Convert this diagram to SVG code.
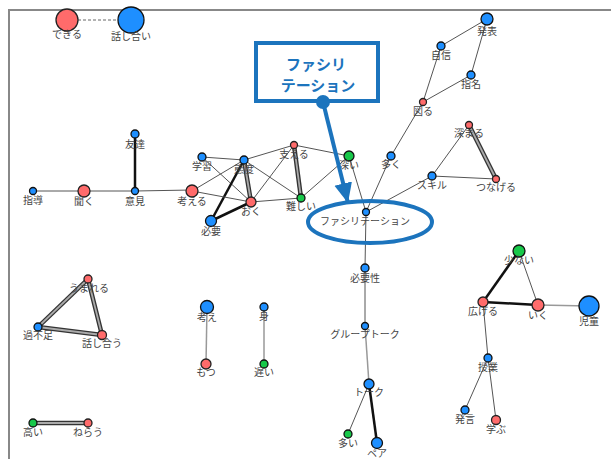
<svg xmlns="http://www.w3.org/2000/svg" width="611" height="459" viewBox="0 0 611 459">
<style>
text{font-family:"Noto Sans CJK JP","Noto Sans",sans-serif;font-size:10px;fill:#444;text-anchor:middle}
.e{stroke:#555;stroke-width:1;fill:none}
.g{stroke:#999;stroke-width:1.5;fill:none}
.b{stroke:#111;stroke-width:2.5;fill:none}
.do{stroke:#333;stroke-width:4.5;fill:none}
.di{stroke:#aaa;stroke-width:1.8;fill:none}
.r{fill:#ff6b6b;stroke:#222;stroke-width:1.3}
.u{fill:#1e8fff;stroke:#111;stroke-width:1.3}
.n{fill:#18c84a;stroke:#111;stroke-width:1.3}
.cl{fill:none;stroke:#1c74bd;stroke-width:4}
.ct{font-size:15px;font-weight:bold;fill:#1c74bd}
</style>
<defs>
<marker id="ah" markerUnits="userSpaceOnUse" markerWidth="22" markerHeight="20" refX="20" refY="9" orient="auto">
<path d="M0,0 L20,9 L0,18 Z" fill="#1c74bd"/>
</marker>
</defs>
<rect width="611" height="459" fill="#fff"/>
<path d="M9,459 V10 H611" fill="none" stroke="#888" stroke-width="2"/>
<g id="edges">
<line x1="78" y1="20" x2="117" y2="20" stroke="#666" stroke-width="1" stroke-dasharray="3,2"/>
<line class="e" x1="487" y1="19" x2="441" y2="46"/>
<line class="e" x1="487" y1="19" x2="471" y2="75"/>
<line class="e" x1="441" y1="46" x2="423" y2="102"/>
<line class="e" x1="471" y1="75" x2="423" y2="102"/>
<line class="e" x1="423" y1="102" x2="391" y2="156"/>
<line class="e" x1="391" y1="156" x2="366" y2="212"/>
<line class="e" x1="469" y1="125" x2="432" y2="176"/>
<line class="do" x1="469" y1="125" x2="496" y2="179"/><line class="di" x1="469" y1="125" x2="496" y2="179"/>
<line class="e" x1="432" y1="176" x2="496" y2="179"/>
<line class="e" x1="432" y1="176" x2="366" y2="212"/>
<line class="e" x1="349" y1="156" x2="366" y2="212"/>
<line class="b" x1="135" y1="134" x2="135" y2="191"/>
<line class="e" x1="33" y1="191" x2="84" y2="191"/>
<line class="e" x1="84" y1="191" x2="135" y2="191"/>
<line class="e" x1="135" y1="191" x2="192" y2="190" stroke-width="1.5"/>
<line class="e" x1="202" y1="157" x2="244" y2="160"/>
<line class="e" x1="202" y1="157" x2="251" y2="202"/>
<line class="e" x1="244" y1="160" x2="294" y2="145"/>
<line class="e" x1="244" y1="160" x2="192" y2="191"/>
<line class="e" x1="244" y1="160" x2="301" y2="198"/>
<line class="do" x1="244" y1="160" x2="251" y2="202"/><line class="di" x1="244" y1="160" x2="251" y2="202"/>
<line class="b" x1="244" y1="160" x2="211" y2="221"/>
<line class="e" x1="294" y1="145" x2="349" y2="156"/>
<line class="e" x1="294" y1="145" x2="251" y2="202"/>
<line class="do" x1="294" y1="145" x2="301" y2="198"/><line class="di" x1="294" y1="145" x2="301" y2="198"/>
<line class="e" x1="192" y1="191" x2="251" y2="202"/>
<line class="e" x1="251" y1="202" x2="301" y2="198"/>
<line class="b" x1="251" y1="202" x2="211" y2="221"/>
<line class="e" x1="301" y1="198" x2="349" y2="156"/>
<line class="e" x1="366" y1="212" x2="365" y2="268"/>
<line class="e" x1="365" y1="268" x2="365" y2="326"/>
<line class="g" x1="365" y1="326" x2="369" y2="384"/>
<line class="e" x1="369" y1="384" x2="348" y2="434"/>
<line class="b" x1="369" y1="384" x2="377" y2="443"/>
<line class="do" x1="88" y1="279" x2="38" y2="327"/><line class="di" x1="88" y1="279" x2="38" y2="327"/>
<line class="do" x1="88" y1="279" x2="102" y2="335"/><line class="di" x1="88" y1="279" x2="102" y2="335"/>
<line class="do" x1="38" y1="327" x2="102" y2="335"/><line class="di" x1="38" y1="327" x2="102" y2="335"/>
<line class="g" x1="207" y1="307" x2="206" y2="364"/>
<line class="g" x1="264" y1="307" x2="264" y2="364"/>
<line class="b" x1="519" y1="251" x2="483" y2="302"/>
<line class="e" x1="519" y1="251" x2="538" y2="305"/>
<line class="b" x1="483" y1="302" x2="538" y2="305"/>
<line class="g" x1="538" y1="305" x2="589" y2="306"/>
<line class="e" x1="483" y1="302" x2="488" y2="358"/>
<line class="e" x1="488" y1="358" x2="465" y2="410"/>
<line class="e" x1="488" y1="358" x2="496" y2="420"/>
<line class="do" x1="33" y1="423" x2="88" y2="423"/><line class="di" x1="33" y1="423" x2="88" y2="423"/>
</g>
<g id="n-dekiru"><circle class="r" cx="67" cy="20" r="11"/><text x="67" y="38">できる</text></g>
<g id="n-hanashiai"><circle class="u" cx="131" cy="20" r="13"/><text x="131" y="40">話し合い</text></g>
<g id="n-happyo"><circle class="u" cx="487" cy="19" r="6"/><text x="487" y="35">発表</text></g>
<g id="n-jishin"><circle class="u" cx="441" cy="46" r="4"/><text x="441" y="59">自信</text></g>
<g id="n-shimei"><circle class="u" cx="471" cy="75" r="4"/><text x="471" y="88">指名</text></g>
<g id="n-hakaru"><circle class="r" cx="423" cy="102" r="3.5"/><text x="423" y="115">図る</text></g>
<g id="n-ooku"><circle class="u" cx="391" cy="156" r="4"/><text x="391" y="168">多く</text></g>
<g id="n-fukamaru"><circle class="r" cx="469" cy="125" r="3.5"/><text x="469" y="137">深まる</text></g>
<g id="n-skill"><circle class="u" cx="432" cy="176" r="4"/><text x="432" y="189">スキル</text></g>
<g id="n-tsunageru"><circle class="r" cx="496" cy="179" r="3.5"/><text x="496" y="191">つなげる</text></g>
<g id="n-tomodachi"><circle class="u" cx="135" cy="134" r="4"/><text x="135" y="148">友達</text></g>
<g id="n-shido"><circle class="u" cx="33" cy="191" r="3.5"/><text x="33" y="204">指導</text></g>
<g id="n-kiku"><circle class="r" cx="84" cy="191" r="6"/><text x="84" y="205">聞く</text></g>
<g id="n-iken"><circle class="u" cx="135" cy="191" r="3.5"/><text x="135" y="205">意見</text></g>
<g id="n-kangaeru"><circle class="r" cx="192" cy="191" r="6"/><text x="192" y="205">考える</text></g>
<g id="n-gakushu"><circle class="u" cx="202" cy="157" r="4"/><text x="202" y="170">学習</text></g>
<g id="n-taido"><circle class="u" cx="244" cy="160" r="4"/><text x="244" y="173">態度</text></g>
<g id="n-sasaeru"><circle class="r" cx="294" cy="145" r="3.5"/><text x="294" y="158">支える</text></g>
<g id="n-fukai"><circle class="n" cx="349" cy="156" r="5"/><text x="349" y="169">深い</text></g>
<g id="n-oku"><circle class="r" cx="251" cy="202" r="5"/><text x="251" y="215">おく</text></g>
<g id="n-muzukashii"><circle class="n" cx="301" cy="198" r="4"/><text x="301" y="210">難しい</text></g>
<g id="n-hitsuyo"><circle class="u" cx="211" cy="221" r="5.5"/><text x="211" y="235">必要</text></g>
<g id="n-facilitation"><circle class="u" cx="366" cy="212" r="3.5"/><text x="365" y="225">ファシリテーション</text></g>
<g id="n-hitsuyosei"><circle class="u" cx="365" cy="268" r="4"/><text x="365" y="282">必要性</text></g>
<g id="n-grouptalk"><circle class="u" cx="365" cy="326" r="3.5"/><text x="365" y="338">グループトーク</text></g>
<g id="n-talk"><circle class="u" cx="369" cy="384" r="5"/><text x="369" y="396">トーク</text></g>
<g id="n-ooi"><circle class="n" cx="348" cy="434" r="4"/><text x="348" y="447">多い</text></g>
<g id="n-pair"><circle class="u" cx="377" cy="443" r="5.5"/><text x="377" y="457">ペア</text></g>
<g id="n-umareru"><circle class="r" cx="88" cy="279" r="4"/><text x="89" y="292">うまれる</text></g>
<g id="n-kafusoku"><circle class="u" cx="38" cy="327" r="4"/><text x="38" y="339">過不足</text></g>
<g id="n-hanashiau"><circle class="r" cx="102" cy="335" r="4.5"/><text x="102" y="347">話し合う</text></g>
<g id="n-kangae"><circle class="u" cx="207" cy="307" r="6.5"/><text x="207" y="321">考え</text></g>
<g id="n-motsu"><circle class="r" cx="206" cy="364" r="5"/><text x="206" y="376">もつ</text></g>
<g id="n-mi"><circle class="u" cx="264" cy="307" r="4"/><text x="264" y="320">身</text></g>
<g id="n-osoi"><circle class="n" cx="264" cy="364" r="4"/><text x="264" y="376">遅い</text></g>
<g id="n-sukunai"><circle class="n" cx="519" cy="251" r="6"/><text x="519" y="264">少ない</text></g>
<g id="n-hirogeru"><circle class="r" cx="483" cy="302" r="5"/><text x="483" y="315">広げる</text></g>
<g id="n-iku"><circle class="r" cx="538" cy="305" r="6"/><text x="538" y="319">いく</text></g>
<g id="n-jido"><circle class="u" cx="589" cy="306" r="10"/><text x="589" y="325">児童</text></g>
<g id="n-jugyo"><circle class="u" cx="488" cy="358" r="4"/><text x="488" y="371">授業</text></g>
<g id="n-hatsugen"><circle class="u" cx="465" cy="410" r="4"/><text x="465" y="423">発言</text></g>
<g id="n-manabu"><circle class="r" cx="496" cy="420" r="4.5"/><text x="496" y="433">学ぶ</text></g>
<g id="n-takai"><circle class="n" cx="33" cy="423" r="4"/><text x="33" y="436">高い</text></g>
<g id="n-nerau"><circle class="r" cx="88" cy="423" r="4"/><text x="88" y="436">ねらう</text></g>
<g id="callout">
<rect class="cl" x="256" y="43" width="122" height="58"/>
<text class="ct" x="316" y="70">ファシリ</text>
<text class="ct" x="318" y="91">テーション</text>
<line x1="323" y1="102" x2="348" y2="203" stroke="#1c74bd" stroke-width="4" marker-end="url(#ah)"/>
<circle cx="323" cy="102" r="7" fill="#1c74bd"/>
<ellipse class="cl" cx="370" cy="222" rx="62" ry="21"/>
</g>
</svg>
